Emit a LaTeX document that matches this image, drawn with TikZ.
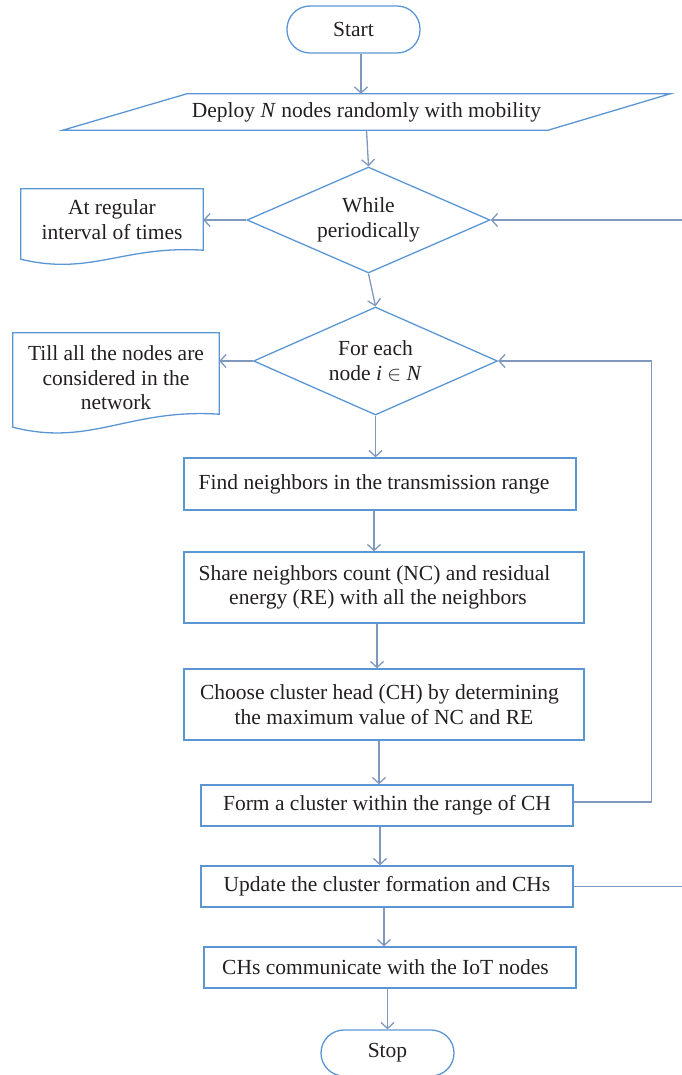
\documentclass[tikz,border=0pt]{standalone}
\usepackage{fontspec}
\setmainfont{Liberation Serif}
\usetikzlibrary{arrows.meta,shapes.geometric}
\definecolor{boxblue}{RGB}{91,150,212}
\definecolor{linegray}{RGB}{128,152,190}
\definecolor{ink}{RGB}{35,31,32}
\newcommand\padr[1]{\hspace*{#1}}
\begin{document}
\begin{tikzpicture}[x=1pt,y=-1pt,
  every node/.style={font=\fontsize{21.5}{24.5}\selectfont, text=ink, align=center, inner sep=0pt},
  proc/.style={draw=boxblue, line width=1.3pt, rectangle},
  term/.style={draw=boxblue, line width=1.3pt, rectangle, rounded corners=23pt},
  dec/.style={draw=boxblue, line width=1.3pt, diamond, shape aspect=2.3},
  outline/.style={draw=boxblue, line width=1.3pt},
  arr/.style={draw=linegray, line width=1.3pt, -{Straight Barb[length=6pt,width=13pt]}}]
\useasboundingbox (0,0) rectangle (681,1075);

% terminals and input
\node[term, minimum width=133pt, minimum height=47pt] (start) at (353.5,29.5) {Start};
\node[minimum width=607pt, minimum height=36pt] (dep) at (366.5,112) {Deploy \textit{N} nodes randomly with mobility};
\draw[outline] ([xshift=124pt]dep.north west) -- (dep.north east) -- ([xshift=-122pt]dep.south east) -- (dep.south west) -- cycle;

% decisions
\node[dec, minimum width=243pt, minimum height=106pt] (d1) at (368.5,220) {While\\periodically};
\node[dec, minimum width=244pt, minimum height=108pt] (d2) at (375.5,361) {For each\\node \textit{i} $\in$ \textit{N}};

% document shapes
\node[minimum width=182pt, minimum height=61pt] (doc1) at (112,219.5) {At regular\\interval of times};
\draw[outline] ([yshift=-9pt]doc1.south west) -- (doc1.north west) -- (doc1.north east) -- (doc1.south east)
  .. controls +(-80,-5) and +(70,17) .. ([yshift=-9pt]doc1.south west) -- cycle;

\node[minimum width=206pt, minimum height=81pt] (doc2) at (116,373.5) {};
\node (doc2t) at ([yshift=-4.5pt]doc2.center) {Till all the nodes are\\considered in the\\network};
\draw[outline] ([yshift=-13pt]doc2.south west) -- (doc2.north west) -- (doc2.north east) -- (doc2.south east)
  .. controls +(-90,-6) and +(78,20) .. ([yshift=-13pt]doc2.south west) -- cycle;

% process boxes
\node[proc, minimum width=392pt, minimum height=52pt] (b1) at (380,484) {Find neighbors in the transmission range\padr{12pt}};
\node[proc, minimum width=400pt, minimum height=71pt] (b2) at (384,587.5) {Share neighbors count (NC) and residual\padr{19pt}\\energy (RE) with all the neighbors\padr{12pt}};
\node[proc, minimum width=400pt, minimum height=71pt] (b3) at (384,704.5) {Choose cluster head (CH) by determining\padr{9pt}\\the maximum value of NC and RE};
\node[proc, minimum width=372pt, minimum height=41pt] (b4) at (387,805.5) {Form a cluster within the range of CH};
\node[proc, minimum width=372pt, minimum height=41pt] (b5) at (387,886.5) {Update the cluster formation and CHs};
\node[proc, minimum width=372pt, minimum height=41pt] (b6) at (390,967.5) {CHs communicate with the IoT nodes\padr{9pt}};
\node[term, minimum width=133pt, minimum height=46pt] (stop) at (387.5,1053) {Stop};

% connectors
\coordinate (s1) at ([xshift=7.5pt]start.south);
\draw[arr] (s1) -- (s1 |- dep.north);
\draw[arr] (dep.south) -- (d1.north);
\draw[arr] (d1.west) -- (d1.west -| doc1.east);
\draw[arr] (d1.south) -- (d2.north);
\draw[arr] (d2.west) -- (d2.west -| doc2.east);
\draw[arr] (d2.south) -- (d2.south |- b1.north);
\coordinate (s2) at ([xshift=-6pt]b1.south);
\draw[arr] (s2) -- (s2 |- b2.north);
\coordinate (s3) at ([xshift=-7pt]b2.south);
\draw[arr] (s3) -- (s3 |- b3.north);
\coordinate (s4) at ([xshift=-5pt]b3.south);
\draw[arr] (s4) -- (s4 |- b4.north);
\coordinate (s5) at ([xshift=-7pt]b4.south);
\draw[arr] (s5) -- (s5 |- b5.north);
\coordinate (s6) at ([xshift=-3pt]b5.south);
\draw[arr] (s6) -- (s6 |- b6.north);
\draw[arr] (stop.north |- b6.south) -- (stop.north);

% loops back
\coordinate (l1) at ([yshift=3.5pt]b4.east);
\draw[arr] (l1) -| ([xshift=153pt]d2.east) -- (d2.east);
\draw[arr] (b5.east) -| ([xshift=194pt]d1.east) -- (d1.east);
\end{tikzpicture}
\end{document}
